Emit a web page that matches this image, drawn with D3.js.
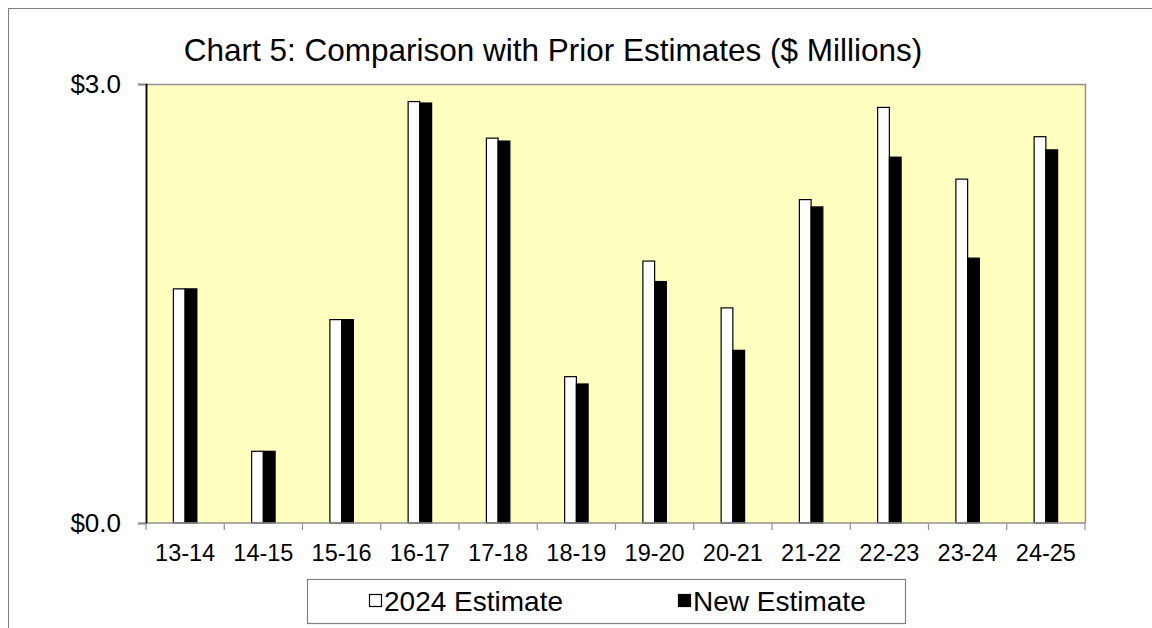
<!DOCTYPE html>
<html>
<head>
<meta charset="utf-8">
<script src="https://cdn.jsdelivr.net/npm/d3@7"></script>
<style>
  html, body { margin: 0; padding: 0; background: #ffffff; }
  svg { display: block; font-family: "Liberation Sans", Arial, sans-serif; }
</style>
</head>
<body>
<svg id="chart" width="1152" height="628"></svg>
<script>
// Fiscal years on the category axis
const categories = ["13-14", "14-15", "15-16", "16-17", "17-18", "18-19",
                    "19-20", "20-21", "21-22", "22-23", "23-24", "24-25"];
// Prior (2024) estimate, $ millions
const priorEstimate = [1.60, 0.49, 1.39, 2.88, 2.63, 1.00, 1.79, 1.47, 2.21, 2.84, 2.35, 2.64];
// Updated estimate, $ millions
const newEstimate   = [1.60, 0.49, 1.39, 2.87, 2.61, 0.95, 1.65, 1.18, 2.16, 2.50, 1.81, 2.55];
const yTicks = [0, 3];
const seriesNames = ["2024 Estimate", "New Estimate"];
const titleText = "Chart 5: Comparison with Prior Estimates ($ Millions)";

const svg = d3.select("#chart");

// outer chart frame
svg.append("rect")
  .attr("x", 8.5).attr("y", 8.5)
  .attr("width", 1160).attr("height", 640)
  .attr("fill", "#ffffff").attr("stroke", "#808080").attr("stroke-width", 1);

const plot = { left: 146, right: 1085, top: 84, bottom: 523 };

const x = d3.scaleBand().domain(categories).range([plot.left, plot.right]).padding(0);
const y = d3.scaleLinear().domain([0, 3]).range([plot.bottom, plot.top]);

// plot background
svg.append("rect")
  .attr("x", plot.left).attr("y", plot.top)
  .attr("width", plot.right - plot.left).attr("height", plot.bottom - plot.top)
  .attr("fill", "#ffffc0");

// top and right borders of the plot area
svg.append("path")
  .attr("d", `M${plot.left},${plot.top + 0.5}H${plot.right + 0.5}V${plot.bottom}`)
  .attr("fill", "none").attr("stroke", "#909090").attr("stroke-width", 1.5);

// bars
const bw = x.bandwidth() * 0.15;
const rows = categories.map((c, i) => ({ c, prior: priorEstimate[i], next: newEstimate[i] }));

const g = svg.append("g");
g.selectAll("rect.prior").data(rows).enter().append("rect")
  .attr("class", "prior")
  .attr("x", d => x(d.c) + x.bandwidth() / 2 - bw)
  .attr("y", d => y(d.prior))
  .attr("width", bw)
  .attr("height", d => y(0) - y(d.prior))
  .attr("fill", "#ffffff").attr("stroke", "#000000").attr("stroke-width", 1.2);

g.selectAll("rect.next").data(rows).enter().append("rect")
  .attr("class", "next")
  .attr("x", d => x(d.c) + x.bandwidth() / 2)
  .attr("y", d => y(d.next))
  .attr("width", bw)
  .attr("height", d => y(0) - y(d.next))
  .attr("fill", "#000000").attr("stroke", "#000000").attr("stroke-width", 1.2);

// y axis
const yAxis = svg.append("g")
  .attr("transform", `translate(${plot.left},0)`)
  .call(d3.axisLeft(y).tickValues(yTicks).tickSize(8).tickPadding(17)
        .tickFormat(d => "$" + d3.format(".1f")(d)));
yAxis.select(".domain").attr("stroke", "#000000").attr("stroke-width", 1.5);
yAxis.selectAll(".tick line").attr("stroke", "#909090").attr("stroke-width", 1.5);
yAxis.selectAll(".tick text")
  .attr("font-size", 26).attr("fill", "#000000")
  .attr("font-family", "'Liberation Sans', Arial, sans-serif");

// x axis: line along zero, ticks at category boundaries
const xg = svg.append("g").attr("transform", `translate(0,${plot.bottom})`);
xg.append("line")
  .attr("x1", plot.left).attr("x2", plot.right)
  .attr("stroke", "#909090").attr("stroke-width", 1.5);
const bounds = categories.map(c => x(c)).concat([plot.right]);
xg.selectAll("line.tk").data(bounds).enter().append("line")
  .attr("class", "tk")
  .attr("x1", d => d).attr("x2", d => d)
  .attr("y1", 0).attr("y2", 7)
  .attr("stroke", "#909090").attr("stroke-width", 1.2);
xg.selectAll("text").data(categories).enter().append("text")
  .attr("x", d => x(d) + x.bandwidth() / 2)
  .attr("y", 38)
  .attr("text-anchor", "middle")
  .attr("font-size", 23.5)
  .attr("fill", "#000000")
  .text(d => d);

// left axis line above the plot background
svg.append("line")
  .attr("x1", plot.left + 0.5).attr("x2", plot.left + 0.5)
  .attr("y1", plot.top).attr("y2", plot.bottom)
  .attr("stroke", "#000000").attr("stroke-width", 1.5);

// title
svg.append("text")
  .attr("x", 553).attr("y", 61)
  .attr("text-anchor", "middle")
  .attr("font-size", 31.5)
  .attr("fill", "#000000")
  .text(titleText);

// legend
const lg = svg.append("g");
lg.append("rect")
  .attr("x", 307.5).attr("y", 579.5)
  .attr("width", 598).attr("height", 44)
  .attr("fill", "#ffffff").attr("stroke", "#808080").attr("stroke-width", 1.2);

const legendItems = [
  { name: seriesNames[0], fill: "#ffffff", sx: 369, tx: 384 },
  { name: seriesNames[1], fill: "#000000", sx: 678, tx: 693 }
];
legendItems.forEach(it => {
  lg.append("rect")
    .attr("x", it.sx + 0.5).attr("y", 594.5)
    .attr("width", 12).attr("height", 12)
    .attr("fill", it.fill).attr("stroke", "#000000").attr("stroke-width", 1.2);
  lg.append("text")
    .attr("x", it.tx).attr("y", 611)
    .attr("font-size", 28)
    .attr("fill", "#000000")
    .text(it.name);
});
</script>
</body>
</html>
